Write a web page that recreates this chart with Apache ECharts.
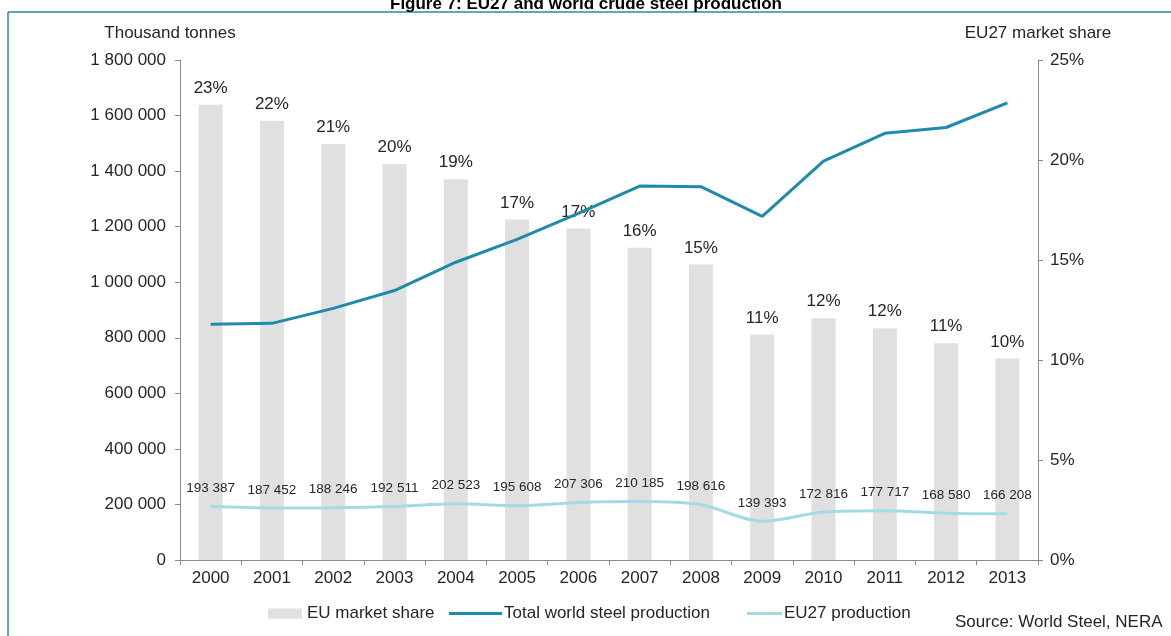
<!DOCTYPE html>
<html>
<head>
<meta charset="utf-8">
<script src="https://cdn.jsdelivr.net/npm/echarts@6/dist/echarts.min.js"></script>
<style>
  html, body { margin: 0; padding: 0; background: #ffffff; }
  #chart { width: 1171px; height: 636px; }
</style>
</head>
<body>
<div id="chart"></div>
<script>
// Crude steel production, EU27 vs world (thousand tonnes) and EU27 share (%)
const years = ['2000', '2001', '2002', '2003', '2004', '2005', '2006',
               '2007', '2008', '2009', '2010', '2011', '2012', '2013'];
const euShare = [22.76, 21.95, 20.8, 19.8, 19.04, 17.03, 16.58,
                 15.61, 14.78, 11.27, 12.09, 11.59, 10.84, 10.07];
const worldProduction = [849000, 852000, 906000, 970000, 1072000, 1154000, 1248000,
                         1346000, 1344000, 1237000, 1436000, 1536000, 1557000, 1646000];
const eu27Production = [193387, 187452, 188246, 192511, 202523, 195608, 207306,
                        210185, 198616, 139393, 172816, 177717, 168580, 166208];
const leftTicks = [0, 200000, 400000, 600000, 800000, 1000000, 1200000, 1400000, 1600000, 1800000];
const rightTicks = [0, 5, 10, 15, 20, 25];

const FONT = 'Liberation Sans, Arial, sans-serif';
const TEXT = '#262626';
const AXIS = '#8c8c8c';
const FRAME = '#2b8d98';

function spaced(v) {
  return String(Math.round(v)).replace(/\B(?=(\d{3})+(?!\d))/g, ' ');
}

const chart = echarts.init(document.getElementById('chart'), null, { renderer: 'canvas' });

chart.setOption({
  animation: false,
  backgroundColor: '#ffffff',
  textStyle: { fontFamily: FONT },
  grid: { left: 180, right: 133, top: 60, bottom: 76, containLabel: false },
  legend: [
    {
      data: ['EU market share'], left: 268, top: 605, padding: 0,
      itemWidth: 34, itemHeight: 10, icon: 'rect',
      textStyle: { fontFamily: FONT, fontSize: 17, color: TEXT }
    },
    {
      data: ['Total world steel production'], left: 449, top: 605, padding: 0,
      itemWidth: 53, itemHeight: 3, icon: 'rect',
      textStyle: { fontFamily: FONT, fontSize: 17, color: TEXT, padding: [0, 0, 0, -3] }
    },
    {
      data: ['EU27 production'], left: 747, top: 605, padding: 0,
      itemWidth: 35, itemHeight: 3, icon: 'rect',
      textStyle: { fontFamily: FONT, fontSize: 17, color: TEXT, padding: [0, 0, 0, -3] }
    }
  ],
  xAxis: {
    type: 'category',
    data: years,
    boundaryGap: true,
    axisLine: { lineStyle: { color: AXIS, width: 1 } },
    axisTick: { show: true, length: 5, alignWithLabel: false, lineStyle: { color: AXIS } },
    axisLabel: { fontFamily: FONT, fontSize: 17, color: TEXT, margin: 10 }
  },
  yAxis: [
    {
      type: 'value',
      min: leftTicks[0], max: leftTicks[leftTicks.length - 1], interval: 200000,
      name: 'Thousand tonnes',
      nameLocation: 'end', nameGap: 18,
      nameTextStyle: { fontFamily: FONT, fontSize: 17, color: TEXT, align: 'center', padding: [0, 20, 0, 0] },
      axisLine: { show: true, lineStyle: { color: AXIS, width: 1 } },
      axisTick: { show: true, length: 5, lineStyle: { color: AXIS } },
      splitLine: { show: false },
      axisLabel: { fontFamily: FONT, fontSize: 17, color: TEXT, margin: 14, formatter: spaced }
    },
    {
      type: 'value',
      min: rightTicks[0], max: rightTicks[rightTicks.length - 1], interval: 5,
      position: 'right',
      name: 'EU27 market share',
      nameLocation: 'end', nameGap: 18,
      nameTextStyle: { fontFamily: FONT, fontSize: 17, color: TEXT, align: 'center' },
      axisLine: { show: true, lineStyle: { color: AXIS, width: 1 } },
      axisTick: { show: true, length: 5, lineStyle: { color: AXIS } },
      splitLine: { show: false },
      axisLabel: { fontFamily: FONT, fontSize: 17, color: TEXT, margin: 12, formatter: v => v + '%' }
    }
  ],
  series: [
    {
      name: 'EU market share',
      type: 'bar',
      yAxisIndex: 1,
      data: euShare,
      barWidth: 24,
      itemStyle: { color: '#e0e0e0' },
      label: {
        show: true, position: 'top', distance: 8,
        fontFamily: FONT, fontSize: 17, color: TEXT,
        formatter: p => Math.round(p.value) + '%'
      },
      z: 1
    },
    {
      name: 'Total world steel production',
      type: 'line',
      yAxisIndex: 0,
      data: worldProduction,
      symbol: 'none',
      lineStyle: { color: '#1f8aaa', width: 3 },
      itemStyle: { color: '#1f8aaa' },
      z: 3
    },
    {
      name: 'EU27 production',
      type: 'line',
      yAxisIndex: 0,
      data: eu27Production,
      smooth: 0.3,
      symbol: 'circle',
      symbolSize: 0.1,
      showSymbol: true,
      lineStyle: { color: '#a3dbe5', width: 3 },
      itemStyle: { color: '#a3dbe5' },
      label: {
        show: true, position: 'top', distance: 11,
        fontFamily: FONT, fontSize: 13.5, color: TEXT,
        formatter: p => spaced(p.value)
      },
      z: 2
    }
  ],
  graphic: [
    // page frame
    { type: 'line', shape: { x1: 8, y1: 12, x2: 1171, y2: 12 }, style: { stroke: FRAME, lineWidth: 1.5 }, silent: true },
    { type: 'line', shape: { x1: 8, y1: 12, x2: 8, y2: 636 }, style: { stroke: FRAME, lineWidth: 1.5 }, silent: true },
    {
      type: 'text', x: 586, y: 13, silent: true,
      style: {
        text: 'Figure 7: EU27 and world crude steel production',
        font: 'bold 17px ' + FONT, fill: '#000000',
        textAlign: 'center', textVerticalAlign: 'bottom'
      }
    },
    {
      type: 'text', x: 955, y: 622, silent: true,
      style: {
        text: 'Source: World Steel, NERA',
        font: '17px ' + FONT, fill: TEXT,
        textAlign: 'left', textVerticalAlign: 'middle'
      }
    }
  ]
});
</script>
</body>
</html>
